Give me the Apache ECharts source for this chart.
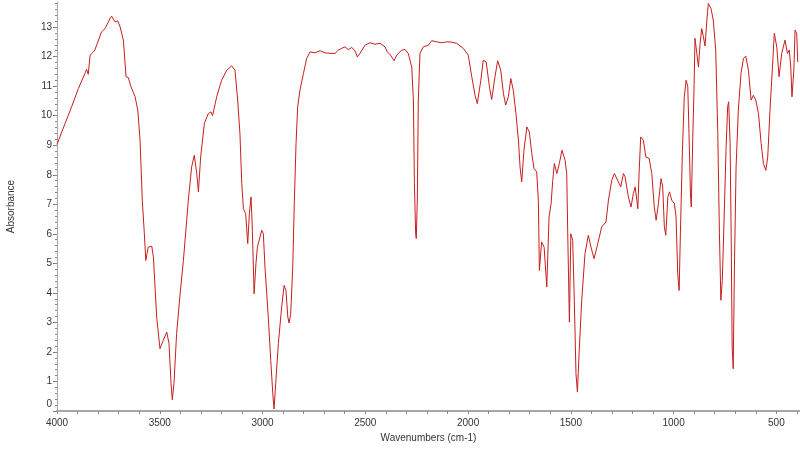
<!DOCTYPE html>
<html>
<head>
<meta charset="utf-8">
<script src="https://cdn.jsdelivr.net/npm/echarts/dist/echarts.min.js"></script>
<style>
  html, body { margin: 0; padding: 0; background: #fff; }
  #spectrum { width: 800px; height: 473px; }
</style>
</head>
<body>
<div id="spectrum"></div>
<script>
// IR spectrum (wavenumber, absorbance)
var wavenumbers = [
  4000, 3961, 3929, 3896, 3864, 3856, 3848, 3839, 3823, 3815, 3807, 3783, 3766, 3742, 3734, 3718, 3705, 3693, 3677, 3664,
  3653, 3640, 3620, 3607, 3596, 3585, 3575, 3568, 3556, 3539, 3531, 3515, 3499, 3483, 3466, 3455, 3445, 3439, 3431, 3418,
  3401, 3385, 3361, 3345, 3332, 3320, 3312, 3301, 3283, 3264, 3251, 3243, 3223, 3199, 3174, 3150, 3134, 3121, 3110, 3101,
  3093, 3082, 3072, 3064, 3056, 3050, 3041, 3032, 3025, 3016, 3004, 2996, 2988, 2972, 2960, 2950, 2944, 2936, 2923, 2907,
  2895, 2886, 2877, 2871, 2863, 2853, 2845, 2837, 2829, 2818, 2801, 2785, 2769, 2745, 2720, 2696, 2672, 2647, 2631, 2615,
  2599, 2583, 2566, 2550, 2539, 2526, 2501, 2477, 2453, 2428, 2404, 2393, 2380, 2360, 2347, 2323, 2307, 2291, 2274, 2266,
  2261, 2255, 2252, 2247, 2242, 2234, 2218, 2193, 2177, 2152, 2128, 2104, 2088, 2055, 2023, 1999, 1982, 1966, 1955, 1938,
  1926, 1912, 1896, 1885, 1869, 1856, 1841, 1828, 1817, 1804, 1792, 1780, 1767, 1755, 1747, 1739, 1728, 1714, 1702, 1690,
  1679, 1666, 1658, 1653, 1642, 1630, 1617, 1606, 1596, 1588, 1580, 1568, 1556, 1543, 1528, 1520, 1515, 1507, 1500, 1491,
  1483, 1475, 1468, 1460, 1447, 1431, 1415, 1402, 1387, 1371, 1350, 1329, 1317, 1301, 1288, 1269, 1257, 1244, 1236, 1220,
  1207, 1196, 1187, 1179, 1174, 1168, 1160, 1147, 1135, 1119, 1106, 1094, 1085, 1074, 1061, 1053, 1045, 1038, 1028, 1020,
  1009, 996, 988, 980, 973, 967, 957, 948, 939, 931, 925, 918, 914, 907, 900, 896, 887, 879, 871, 863,
  855, 847, 838, 831, 818, 807, 795, 785, 777, 770, 763, 754, 745, 737, 732, 725, 720, 715, 710, 704,
  696, 685, 672, 660, 649, 636, 623, 612, 600, 587, 574, 563, 551, 542, 531, 519, 510, 498, 487, 474,
  458, 446, 437, 430, 424, 415, 409, 401, 396
];
var absorbance = [
  9.03, 9.73, 10.3, 10.92, 11.43, 11.57, 11.4, 12.05, 12.16, 12.24, 12.39, 12.84, 12.95, 13.29, 13.37, 13.18, 13.21, 13.01, 12.56, 11.32,
  11.29, 10.98, 10.64, 10.19, 9.17, 7.14, 6.0, 5.1, 5.55, 5.58, 5.21, 3.18, 2.11, 2.39, 2.67, 2.28, 0.92, 0.38, 0.92, 2.62,
  3.97, 5.1, 7.14, 8.26, 8.66, 8.04, 7.42, 8.6, 9.74, 10.07, 10.13, 10.0, 10.64, 11.2, 11.54, 11.69, 11.54, 10.53, 9.4, 7.7,
  6.85, 6.68, 5.67, 6.68, 7.25, 6.23, 3.97, 4.99, 5.55, 5.5, 6.12, 6.0, 4.87, 3.18, 1.71, 0.58, 0.07, 0.92, 2.28, 3.52,
  4.25, 4.08, 3.18, 2.98, 3.29, 4.87, 7.14, 9.06, 10.3, 10.86, 11.43, 11.94, 12.16, 12.13, 12.2, 12.13, 12.11, 12.11, 12.22, 12.28,
  12.33, 12.24, 12.31, 12.2, 11.99, 12.11, 12.39, 12.47, 12.42, 12.45, 12.33, 12.16, 12.08, 11.86, 12.05, 12.22, 12.24, 12.11, 11.65, 10.53,
  7.7, 6.0, 5.84, 7.14, 10.53, 12.11, 12.33, 12.39, 12.54, 12.5, 12.47, 12.5, 12.5, 12.45, 12.28, 12.05, 11.32, 10.69, 10.41, 11.2,
  11.88, 11.82, 10.98, 10.55, 11.32, 11.86, 11.54, 10.75, 10.36, 10.64, 11.26, 10.86, 10.07, 9.17, 8.26, 7.76, 8.83, 9.62, 9.45, 8.72,
  8.21, 8.1, 7.14, 4.76, 5.72, 5.55, 4.2, 6.57, 7.02, 7.81, 8.38, 8.04, 8.38, 8.83, 8.49, 8.04, 6.0, 3.01, 6.0, 5.78,
  3.75, 1.26, 0.64, 1.94, 3.75, 5.33, 5.95, 5.55, 5.16, 5.61, 6.23, 6.4, 7.14, 7.81, 8.04, 7.76, 7.59, 8.04, 7.93, 7.25,
  6.91, 7.36, 7.59, 7.14, 6.85, 8.04, 9.28, 9.17, 8.6, 8.55, 8.04, 6.91, 6.46, 7.02, 7.87, 7.59, 6.23, 5.95, 7.25, 7.42,
  7.14, 7.02, 6.57, 4.65, 4.08, 6.0, 8.83, 10.64, 11.2, 10.98, 9.4, 7.36, 6.91, 9.17, 11.09, 12.62, 12.11, 11.65, 12.45, 12.95,
  12.67, 12.36, 13.24, 13.8, 13.63, 13.24, 12.22, 9.4, 6.0, 3.75, 4.42, 6.57, 8.83, 10.3, 10.47, 9.06, 6.0, 2.16, 1.43, 4.87,
  8.26, 10.19, 11.43, 11.94, 12.02, 11.54, 10.53, 10.69, 10.53, 10.07, 9.06, 8.38, 8.15, 8.6, 10.19, 11.65, 12.79, 12.33, 11.32, 12.11,
  12.56, 12.11, 12.22, 11.65, 10.64, 11.54, 12.9, 12.79, 11.82
];
var xTickLabels = [4000, 3500, 3000, 2500, 2000, 1500, 1000, 500];
var yTickLabels = [0, 1, 2, 3, 4, 5, 6, 7, 8, 9, 10, 11, 12, 13];

var xMinorTicks = [];
for (var w = 400; w <= 4000; w += 100) xMinorTicks.push(w);
var yMinorTicks = [];
for (var k = 0; k <= 69; k++) yMinorTicks.push(Math.round(k * 2) / 10);

var points = wavenumbers.map(function (w, i) { return [w, absorbance[i]]; });

var chart = echarts.init(document.getElementById('spectrum'));
var axisGrey = '#a8a8a8';
var textStyle = { fontFamily: 'Liberation Sans, Arial, sans-serif', fontSize: 10, color: '#333' };

var option = {
  backgroundColor: '#fff',
  animation: false,
  grid: { left: 57, right: 0, top: 2, bottom: 62, containLabel: false, outerBoundsMode: 'none' },
  xAxis: {
    type: 'value',
    inverse: true,
    min: 385,
    max: 4000,
    name: 'Wavenumbers (cm-1)',
    nameLocation: 'middle',
    nameGap: 22,
    nameTextStyle: textStyle,
    axisLine: { lineStyle: { color: axisGrey, width: 2 } },
    axisTick: { customValues: xMinorTicks, length: 3, lineStyle: { color: '#888' } },
    axisLabel: Object.assign({
      customValues: xTickLabels,
      margin: 7,
      formatter: function (v) { return String(v); }
    }, textStyle),
    splitLine: { show: false }
  },
  yAxis: [{
    type: 'value',
    min: 0,
    max: 13.85,
    name: 'Absorbance',
    nameLocation: 'middle',
    nameGap: 41,
    nameTextStyle: textStyle,
    axisLine: { show: true, lineStyle: { color: axisGrey } },
    axisTick: { customValues: yTickLabels, length: 4, lineStyle: { color: '#777' } },
    axisLabel: Object.assign({
      customValues: yTickLabels,
      margin: 5,
      formatter: function (v) { return v === 0 ? '{z|0}' : String(v); },
      rich: { z: { fontFamily: textStyle.fontFamily, fontSize: 10, color: '#333', padding: [0, 0, 14, 0] } }
    }, textStyle),
    splitLine: { show: false }
  }, {
    type: 'value',
    min: 0,
    max: 13.85,
    position: 'left',
    axisLine: { show: false },
    axisTick: { customValues: yMinorTicks, length: 2, lineStyle: { color: '#888' } },
    axisLabel: { show: false },
    splitLine: { show: false }
  }],
  series: [{
    type: 'line',
    yAxisIndex: 0,
    data: points,
    showSymbol: false,
    symbol: 'none',
    lineStyle: { color: '#c81e1e', width: 1 },
    clip: true
  }]
};
chart.setOption(option);
</script>
</body>
</html>
